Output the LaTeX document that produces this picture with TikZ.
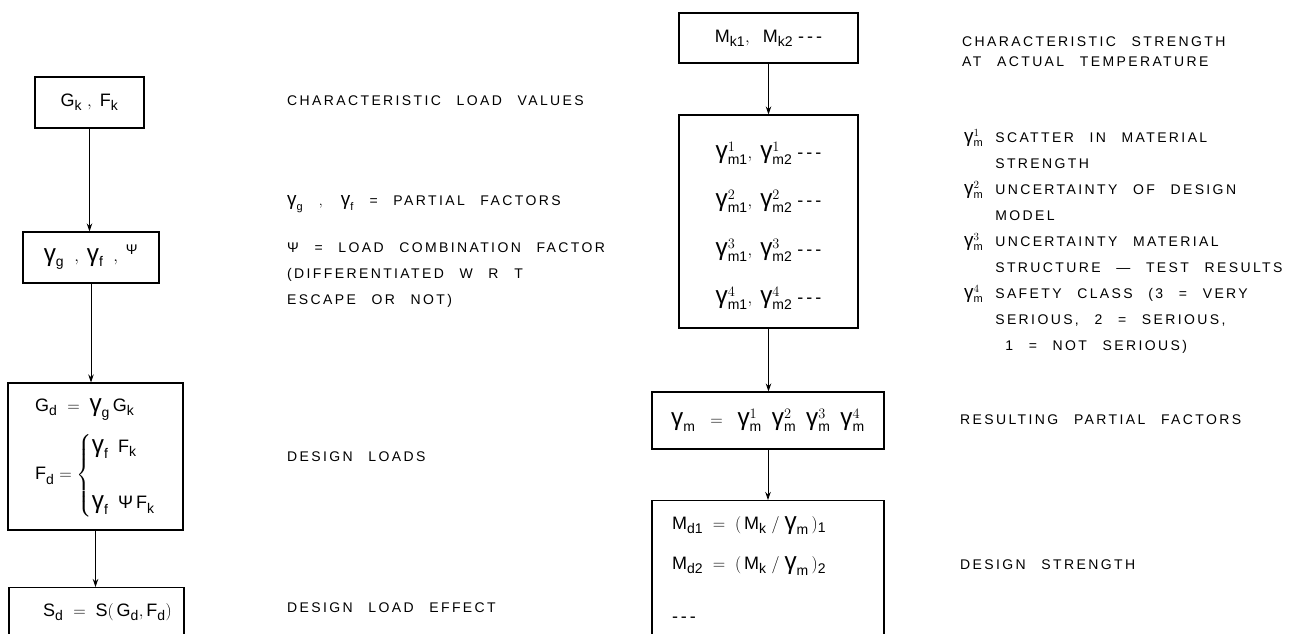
\documentclass[tikz,border=0pt]{standalone}
\usepackage{amsmath}
\usepackage{graphicx}
\usepackage{fontspec}
\setmainfont[LetterSpace=17,WordSpace=2.5]{Liberation Sans}
\setsansfont{Liberation Sans}
\usetikzlibrary{arrows.meta,positioning}
\DeclareMathSizes{18}{18}{14}{11}
\DeclareMathSizes{14}{14}{11}{9}
\newcommand\gm{\text{\sffamily\upshape\scalebox{1.35}{γ}}}
\newcommand\Ps{\text{\sffamily\upshape Ψ}}
\newcommand\tdash{\text{\sffamily -\,-\,-}}
\newcommand\notefont{\fontsize{14}{26}\selectfont}
\newcommand\boxfont{\sffamily\fontsize{18}{22}\selectfont}

\begin{document}
\begin{tikzpicture}[x = 1pt, y = -1pt,
    box/.style = {draw, line width = 1.1pt, inner sep = 0pt, font = \boxfont},
    note/.style = {anchor = west, inner sep = 0pt, align = left, font = \notefont},
    flow/.style = {-{Stealth[length=8pt,width=5.5pt]}, line width = 0.9pt}]
  \useasboundingbox (0,0) rectangle (1294,634);
  \clip (0,0) rectangle (1294,634);

  \node[box, minimum width = 109pt, minimum height = 51pt] (gk) at (89.5,102.5) {$\mathsf{G_k}\ ,\ \mathsf{F_k}$};
  \node[box, minimum width = 136pt, minimum height = 51pt] (gf) at (91,257.5) {$\gm_{\mathsf g}\ \ ,\ \gm_{\mathsf f}\ \ ,\ ^{\Ps}$};
  \node[box, minimum width = 175pt, minimum height = 147pt] (gd) at (95.5,456.5)
    {\begin{tabular}{@{\hspace{18pt}}l@{}}
       $\mathsf{G_d} \ =\ \gm_{\mathsf g}\,\mathsf{G_k}$\\[16pt]
       $\mathsf{F_d} = \begin{cases} \gm_{\mathsf f}\;\ \mathsf{F_k}\\[30pt] \gm_{\mathsf f}\;\ \Ps\,\mathsf{F_k} \end{cases}$
     \end{tabular}};
  \node[box, anchor = north, minimum width = 175pt, text height = 29pt, text depth = 100pt] (sd) at (96.5,587)
    {\hspace{22pt}$\mathsf{S_d}\ =\ \mathsf{S(\,G_d,F_d)}$};

  \node[box, minimum width = 179pt, minimum height = 50pt] (mk) at (768.5,38) {$\mathsf{M_{k1}},\ \ \mathsf{M_{k2}}$ \tdash};
  \node[box, minimum width = 179pt, minimum height = 213pt] (gmm) at (768.5,221.5)
    {\def\arraystretch{2.2}\begin{tabular}{@{}l@{}}
       $\gm^1_{\mathsf{m1}},\ \gm^1_{\mathsf{m2}}$ \tdash\\
       $\gm^2_{\mathsf{m1}},\ \gm^2_{\mathsf{m2}}$ \tdash\\
       $\gm^3_{\mathsf{m1}},\ \gm^3_{\mathsf{m2}}$ \tdash\\
       $\gm^4_{\mathsf{m1}},\ \gm^4_{\mathsf{m2}}$ \tdash
     \end{tabular}};
  \node[box, minimum width = 232pt, minimum height = 57pt] (gm) at (768,420.5)
    {$\gm_{\mathsf m}\ \ =\ \ \gm^1_{\mathsf m}\ \ \gm^2_{\mathsf m}\ \ \gm^3_{\mathsf m}\ \ \gm^4_{\mathsf m}$};
  \node[box, anchor = north, minimum width = 232pt, text depth = 150pt] (md) at (768,500)
    {\def\arraystretch{1.85}\begin{tabular}[t]{@{}p{192pt}@{}}
       $\mathsf{M_{d1}}\ =\ \mathsf{(\,M_k\ /\ }\gm_{\mathsf m}\mathsf{\,)_1}$\\
       $\mathsf{M_{d2}}\ =\ \mathsf{(\,M_k\ /\ }\gm_{\mathsf m}\mathsf{\,)_2}$\\[12pt]
       \tdash
     \end{tabular}};

  \draw[flow] (gk.south) -- (gk.south |- gf.north);
  \draw[flow] (gf.south) -- (gf.south |- gd.north);
  \draw[flow] (gd.south) -- (gd.south |- sd.north);
  \draw[flow] (mk.south) -- (mk.south |- gmm.north);
  \draw[flow] (gmm.south) -- (gmm.south |- gm.north);
  \draw[flow] (gm.south) -- (gm.south |- md.north);

  \node[note] (lcv) at (287,101) {CHARACTERISTIC LOAD VALUES};
  \node[note] (lpf) at (287,204) {$\gm_{\mathsf g}\ ,\ \gm_{\mathsf f}$ = PARTIAL FACTORS};
  \node[note] (lpsi) at (287,275.5) {Ψ = LOAD COMBINATION FACTOR\\(DIFFERENTIATED W R T\\ESCAPE OR NOT)};
  \node[note] (ldl) at (287,457) {DESIGN LOADS};
  \node[note] (lde) at (287,608) {DESIGN LOAD EFFECT};

  \node[note] (rcs) at (962,52) {CHARACTERISTIC STRENGTH\\[-6pt]AT ACTUAL TEMPERATURE};
  \node[anchor = north west, inner sep = 0pt, font = \notefont] (rleg) at (964,124)
    {\begin{tabular}[t]{@{}l@{\hspace{12pt}}l@{}}
       $\gm^1_{\mathsf m}$ & SCATTER IN MATERIAL\\
                         & STRENGTH\\
       $\gm^2_{\mathsf m}$ & UNCERTAINTY OF DESIGN\\
                         & MODEL\\
       $\gm^3_{\mathsf m}$ & UNCERTAINTY MATERIAL\\
                         & STRUCTURE — TEST RESULTS\\
       $\gm^4_{\mathsf m}$ & SAFETY CLASS (3 = VERY\\
                         & SERIOUS, 2 = SERIOUS,\\
                         & \hspace{10pt}1 = NOT SERIOUS)
     \end{tabular}};
  \node[note] (rpf) at (960,420) {RESULTING PARTIAL FACTORS};
  \node[note] (rds) at (960,565) {DESIGN STRENGTH};
\end{tikzpicture}
\end{document}
